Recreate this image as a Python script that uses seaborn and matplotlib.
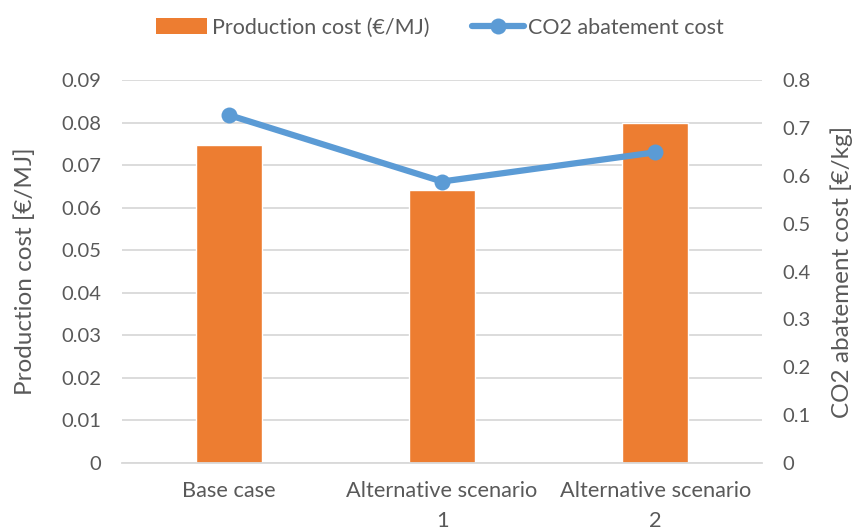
import matplotlib
matplotlib.use("Agg")
import matplotlib.pyplot as plt
import seaborn as sns
import pandas as pd
from matplotlib.lines import Line2D
from matplotlib.patches import Patch

scenarios = ["Base case", "Alternative scenario\n1", "Alternative scenario\n2"]
production_cost = [0.0747, 0.0641, 0.0800]      # €/MJ
abatement_cost = [0.727, 0.588, 0.649]          # €/kg CO2

df = pd.DataFrame({"scenario": scenarios,
                   "production": production_cost,
                   "abatement": abatement_cost})

sns.set_theme(style="white")
plt.rcParams["font.family"] = ["Lato", "DejaVu Sans"]

ORANGE = "#ED7D31"
BLUE = "#5B9BD5"
TEXT = "#595959"
GRID = "#D9D9D9"

fig = plt.figure(figsize=(8.54, 5.30), dpi=100)
ax = fig.add_axes([0.1429, 0.1264, 0.7494, 0.7226])

sns.barplot(data=df, x="scenario", y="production", color=ORANGE,
            width=0.31, saturation=1, ax=ax, zorder=2)
ax.set_ylim(0, 0.09)
ax.set_yticks([i / 100 for i in range(10)])
ax.set_yticklabels(["0"] + [f"{i/100:.2f}" for i in range(1, 10)])
ax.yaxis.grid(True, color=GRID, linewidth=1.3, zorder=0)
ax.set_axisbelow(True)
ax.set_xlim(-0.5, 2.5)
ax.set_xlabel("")
ax.set_ylabel("Production cost [€/MJ]", fontsize=17.5, color=TEXT, labelpad=18)
for s in ["top", "left", "right"]:
    ax.spines[s].set_visible(False)
ax.spines["bottom"].set_color(GRID)
ax.spines["bottom"].set_linewidth(1.3)
ax.tick_params(axis="y", colors=TEXT, labelsize=14.5, length=0, pad=15)
ax.tick_params(axis="x", colors=TEXT, labelsize=15.7, length=0, pad=13)
for lbl in ax.get_xticklabels():
    lbl.set_linespacing(1.6)

ax2 = ax.twinx()
sns.lineplot(data=df, x="scenario", y="abatement", color=BLUE, linewidth=4.5,
             marker="o", markersize=11.5, markeredgewidth=0, ax=ax2, sort=False)
ax2.set_ylim(0, 0.8)
ax2.set_yticks([i / 10 for i in range(9)])
ax2.set_yticklabels(["0"] + [f"{i/10:.1f}" for i in range(1, 9)])
ax2.set_ylabel("CO2 abatement cost [€/kg]", fontsize=17.5, color=TEXT, labelpad=14)
ax2.set_xlabel("")
for s in ["top", "left", "right", "bottom"]:
    ax2.spines[s].set_visible(False)
ax2.tick_params(axis="y", colors=TEXT, labelsize=14.5, length=0, pad=15)
ax2.set_xlim(-0.5, 2.5)

handles = [Patch(facecolor=ORANGE, edgecolor="none"),
           Line2D([0], [0], color=BLUE, linewidth=4.5, marker="o",
                  markersize=11.5, markeredgewidth=0)]
fig.legend(handles, ["Production cost (€/MJ)", "CO2 abatement cost"],
           loc="center", bbox_to_anchor=(0.515, 0.948), ncol=2, frameon=False,
           fontsize=15.5, labelcolor=TEXT, handlelength=2.4, handleheight=0.7,
           handletextpad=0.2, columnspacing=2.0)

fig.savefig("out.png", dpi=100)
